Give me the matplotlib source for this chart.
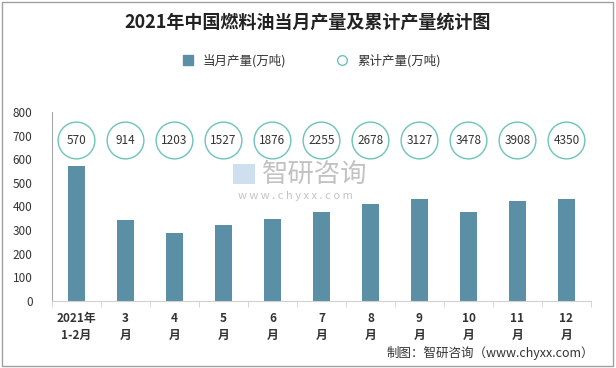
import numpy as np
import matplotlib
matplotlib.use('Agg')
import matplotlib.pyplot as plt
from matplotlib.patches import Rectangle
from matplotlib.lines import Line2D

plt.rcParams['font.family'] = ['Noto Sans CJK SC', 'DejaVu Sans']

# ── data ────────────────────────────────────────────────────────────────────
MONTHS     = ['2021年\n1-2月', '3\n月', '4\n月', '5\n月', '6\n月', '7\n月',
              '8\n月', '9\n月', '10\n月', '11\n月', '12\n月']
MONTHLY    = [570, 343, 288, 322, 347, 377, 411, 432, 377, 424, 432]
CUMULATIVE = [570, 914, 1203, 1527, 1876, 2255, 2678, 3127, 3478, 3908, 4350]

BAR_COLOR    = '#5B8FA6'
CIRCLE_COLOR = '#6CC3BA'
CIRCLE_Y     = 680

fig = plt.figure(figsize=(6.16, 3.68), dpi=100)
fig.patches.append(Rectangle((0.003, 0.005), 0.992, 0.99, transform=fig.transFigure,
                             fill=False, edgecolor='#A0A0A0', linewidth=1))

ax = fig.add_axes([0.0844, 0.182, 0.875, 0.514])
x = np.arange(len(MONTHS))
ax.bar(x, MONTHLY, width=0.33, color=BAR_COLOR, zorder=2)

# cumulative values shown as circles with labels
ax.scatter(x, [CIRCLE_Y] * len(x), s=700, facecolor='white',
           edgecolor=CIRCLE_COLOR, linewidth=1, zorder=3)
for xi, v in zip(x, CUMULATIVE):
    ax.text(xi, CIRCLE_Y, str(v), ha='center', va='center', fontsize=8.5,
            color='#333333', zorder=4)

ax.set_xlim(-0.5, len(MONTHS) - 0.5)
ax.set_ylim(0, 800)
ax.set_yticks(range(0, 801, 100))
ax.tick_params(axis='y', length=0, labelsize=8.5, labelcolor='#333333', pad=14)
ax.set_xticks(x)
ax.set_xticklabels(MONTHS, fontsize=8.5, fontweight='bold', color='#333333',
                   linespacing=1.35)
ax.tick_params(axis='x', length=0, pad=8)
ax.set_xticks(np.arange(-0.5, len(MONTHS), 1), minor=True)
ax.tick_params(axis='x', which='minor', length=4, color='#D0D0D0')
ax.spines[['top', 'right']].set_visible(False)
ax.spines['left'].set_color('#A8A8A8')
ax.spines['bottom'].set_color('#D0D0D0')

# title and legend
fig.text(0.5, 0.94, '2021年中国燃料油当月产量及累计产量统计图', ha='center',
         va='center', fontsize=13, fontweight='bold', color='#222222')
handles = [
    Line2D([], [], marker='s', linestyle='none', markersize=7,
           markerfacecolor=BAR_COLOR, markeredgecolor=BAR_COLOR),
    Line2D([], [], marker='o', linestyle='none', markersize=7,
           markerfacecolor='white', markeredgecolor=CIRCLE_COLOR),
]
fig.legend(handles, ['当月产量(万吨)', '累计产量(万吨)'], loc='center',
           bbox_to_anchor=(0.5, 0.835), ncol=2, frameon=False, fontsize=9,
           handletextpad=0.2, columnspacing=3.5, labelcolor='#333333')

# watermark
fig.patches.append(Rectangle((0.378, 0.50), 0.036, 0.055, transform=fig.transFigure,
                             facecolor='#C9DCEE', edgecolor='none', alpha=0.9))
fig.text(0.425, 0.527, '智研咨询', fontsize=19, color='#B8B8B8', ha='left',
         va='center', alpha=0.85)
fig.text(0.386, 0.468, 'w w w . c h y x x . c o m', fontsize=8, color='#B8B8B8',
         ha='left', va='center', alpha=0.85)

# source note
fig.text(0.965, 0.04, '制图：智研咨询（www.chyxx.com）', fontsize=9,
         color='#333333', ha='right', va='center')

plt.savefig('out.png', dpi=100)
plt.close()
